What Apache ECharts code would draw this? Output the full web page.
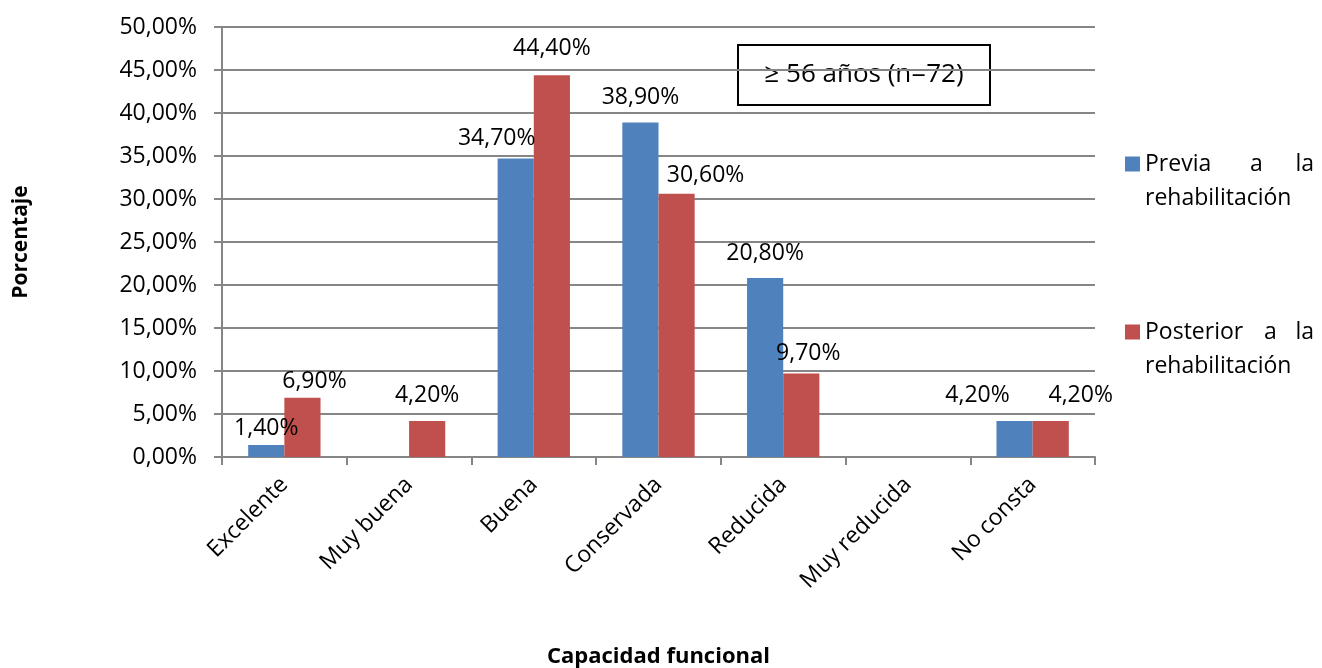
<!DOCTYPE html>
<html>
<head>
<meta charset="utf-8">
<script src="https://cdn.jsdelivr.net/npm/echarts@6/dist/echarts.min.js"></script>
<style>
  html, body { margin: 0; padding: 0; background: #ffffff; overflow: hidden; }
  #chart { width: 1322px; height: 668px; }
</style>
</head>
<body>
<div id="chart"></div>
<script>
// Functional capacity categories and percentages before / after rehabilitation
const categories = ['Excelente', 'Muy buena', 'Buena', 'Conservada', 'Reducida', 'Muy reducida', 'No consta'];
const previa = [1.4, 0, 34.7, 38.9, 20.8, 0, 4.2];
const posterior = [6.9, 4.2, 44.4, 30.6, 9.7, 0, 4.2];
const yTicks = { min: 0, max: 50, interval: 5 };

// Label nudges [dx, dy] so neighbouring value labels do not collide
const previaLabelShift = [[0, -3], [0, 0], [-19, -7], [0, -12], [0, -11], [0, 0], [-37, -12]];
const posteriorLabelShift = [[12, -3], [0, -12], [0, -13], [29, -5], [7, -7], [0, 0], [30, -12]];

const FONT = '"Open Sans", "Noto Sans", sans-serif';
const fmtPct = v => v.toFixed(2).replace('.', ',') + '%';

function buildData(values, shifts) {
  return values.map((v, i) => ({
    value: v,
    label: { offset: shifts[i] }
  }));
}

const labelStyle = {
  show: true,
  position: 'top',
  distance: 2,
  color: '#000',
  fontFamily: FONT,
  fontSize: 23,
  formatter: p => (p.value ? fmtPct(p.value) : '')
};

// Square marker sitting beside the first line of a two-line legend entry
const legendIcon = 'path://M0,0L15,0L15,15L0,15Z M0,49L0.01,49L0,49Z';
const legendFont = { fontFamily: FONT, fontSize: 23, lineHeight: 34, color: '#000' };
const legendRich = {
  prev: Object.assign({ width: 105, align: 'left' }, legendFont),
  prevA: Object.assign({ width: 44, align: 'left' }, legendFont),
  post: Object.assign({ width: 119, align: 'left' }, legendFont),
  postA: Object.assign({ width: 30, align: 'left' }, legendFont),
  la: Object.assign({ width: 20, align: 'right' }, legendFont),
  l2: Object.assign({}, legendFont)
};

const chart = echarts.init(document.getElementById('chart'), null, { renderer: 'canvas' });

chart.setOption({
  backgroundColor: '#ffffff',
  animation: false,
  grid: {
    left: 222, right: 227, top: 27, bottom: 211,
    containLabel: false,
    outerBoundsMode: 'none'
  },
  legend: {
    orient: 'vertical',
    left: 1125,
    top: 147,
    padding: 0,
    itemWidth: 15,
    itemHeight: 49,
    itemGap: 100,
    selectedMode: false,
    textStyle: Object.assign({ rich: legendRich }, legendFont),
    formatter: name => (name.indexOf('Previa') === 0
      ? '{prev|Previa}{prevA|a}{la|la}\n{l2|rehabilitación}'
      : '{post|Posterior}{postA|a}{la|la}\n{l2|rehabilitación}'),
    data: [
      { name: 'Previa a la rehabilitación', icon: legendIcon },
      { name: 'Posterior a la rehabilitación', icon: legendIcon }
    ]
  },
  xAxis: {
    type: 'category',
    data: categories,
    name: 'Capacidad funcional',
    nameLocation: 'middle',
    nameGap: 189,
    nameTextStyle: { fontFamily: FONT, fontSize: 22, fontWeight: 'bold', color: '#000' },
    axisLine: { show: true, lineStyle: { color: '#868686', width: 2 } },
    axisTick: { show: true, alignWithLabel: false, length: 8, lineStyle: { color: '#868686', width: 2 } },
    axisLabel: {
      rotate: 45,
      margin: 24,
      interval: 0,
      fontFamily: FONT,
      fontSize: 23,
      color: '#000'
    }
  },
  yAxis: {
    type: 'value',
    min: yTicks.min,
    max: yTicks.max,
    interval: yTicks.interval,
    name: 'Porcentaje',
    nameLocation: 'middle',
    nameGap: 190,
    nameRotate: 90,
    nameTextStyle: { fontFamily: FONT, fontSize: 21, fontWeight: 'bold', color: '#000' },
    axisLine: { show: true, lineStyle: { color: '#868686', width: 2 } },
    axisTick: { show: true, inside: false, length: 8, lineStyle: { color: '#868686', width: 2 } },
    splitLine: { show: true, lineStyle: { color: '#868686', width: 2 } },
    axisLabel: {
      margin: 25,
      fontFamily: FONT,
      fontSize: 23,
      color: '#000',
      formatter: v => fmtPct(v)
    }
  },
  series: [
    {
      name: 'Previa a la rehabilitación',
      type: 'bar',
      data: buildData(previa, previaLabelShift),
      barGap: '0%',
      barCategoryGap: '42%',
      itemStyle: { color: '#4F81BD' },
      label: labelStyle
    },
    {
      name: 'Posterior a la rehabilitación',
      type: 'bar',
      data: buildData(posterior, posteriorLabelShift),
      barGap: '0%',
      barCategoryGap: '42%',
      itemStyle: { color: '#C0504D' },
      label: labelStyle
    }
  ],
  graphic: [
    {
      type: 'group',
      left: 737,
      top: 44,
      children: [
        {
          type: 'rect',
          shape: { x: 0, y: 0, width: 252, height: 60 },
          style: { fill: '#ffffff', stroke: '#000000', lineWidth: 2 }
        },
        {
          type: 'text',
          x: 126,
          y: 30,
          style: {
            text: '≥ 56 años (n=72)',
            fontFamily: FONT,
            fontSize: 26,
            fill: '#000',
            align: 'center',
            verticalAlign: 'middle'
          }
        }
      ]
    }
  ]
});
</script>
</body>
</html>
